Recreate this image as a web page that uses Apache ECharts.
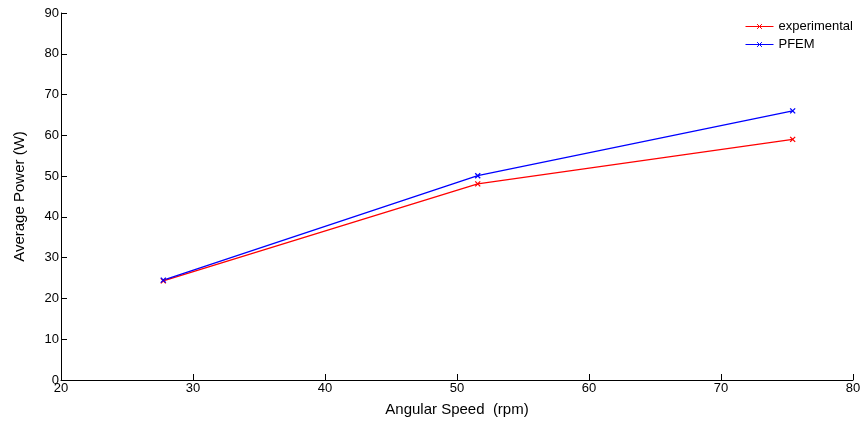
<!DOCTYPE html>
<html><head><meta charset="utf-8">
<script src="https://cdn.jsdelivr.net/npm/echarts@6/dist/echarts.min.js"></script>
<style>html,body{margin:0;padding:0;background:#fff}#c{width:865px;height:423px}</style>
</head><body><div id="c"></div>
<script>
const speeds = [27.75, 51.57, 75.43];
const experimental = [24.3, 48.1, 59.0];
const pfem = [24.5, 50.1, 66.0];
const seriesNames = ['experimental', 'PFEM'];
const xTicks = {min: 20, max: 80, interval: 10};
const yTicks = {min: 0, max: 90, interval: 10};

const cross = 'path://M0,0L10,10M10,0L0,10';
const font = 'Liberation Sans, Arial, sans-serif';
function mk(name, vals, color) {
  return {
    name: name, type: 'line',
    data: speeds.map((s, i) => [s, vals[i]]),
    symbol: cross, symbolSize: 5, showSymbol: true,
    lineStyle: {color: color, width: 1.3},
    itemStyle: {color: color, borderColor: color, borderWidth: 1.3},
    emphasis: {disabled: true}, animation: false
  };
}
const chart = echarts.init(document.getElementById('c'));
chart.setOption({
  animation: false,
  grid: {left: 61, right: 12, top: 13, bottom: 43, containLabel: false},
  legend: {
    orient: 'vertical', left: 740, top: 15, itemGap: 5, itemWidth: 28, itemHeight: 6,
    data: seriesNames,
    lineStyle: {width: 1},
    itemStyle: {borderWidth: 1},
    textStyle: {fontFamily: font, fontSize: 13, color: '#000'}
  },
  xAxis: {
    type: 'value', min: xTicks.min, max: xTicks.max, interval: xTicks.interval,
    name: 'Angular Speed  (rpm)', nameLocation: 'middle', nameGap: 22,
    nameTextStyle: {fontFamily: font, fontSize: 15, color: '#000'},
    axisLine: {show: true, lineStyle: {color: '#000', width: 1}},
    axisTick: {show: true, inside: true, length: 6, lineStyle: {color: '#000'}},
    axisLabel: {fontFamily: font, fontSize: 13, color: '#000', margin: 2},
    splitLine: {show: false}
  },
  yAxis: {
    type: 'value', min: yTicks.min, max: yTicks.max, interval: yTicks.interval,
    name: 'Average Power (W)', nameLocation: 'middle', nameGap: 34,
    nameTextStyle: {fontFamily: font, fontSize: 15, color: '#000'},
    axisLine: {show: true, lineStyle: {color: '#000', width: 1}},
    axisTick: {show: true, inside: true, length: 6, lineStyle: {color: '#000'}},
    axisLabel: {fontFamily: font, fontSize: 13, color: '#000', margin: 2},
    splitLine: {show: false}
  },
  series: [mk(seriesNames[0], experimental, '#ff0000'), mk(seriesNames[1], pfem, '#0000ff')]
});
</script></body></html>
